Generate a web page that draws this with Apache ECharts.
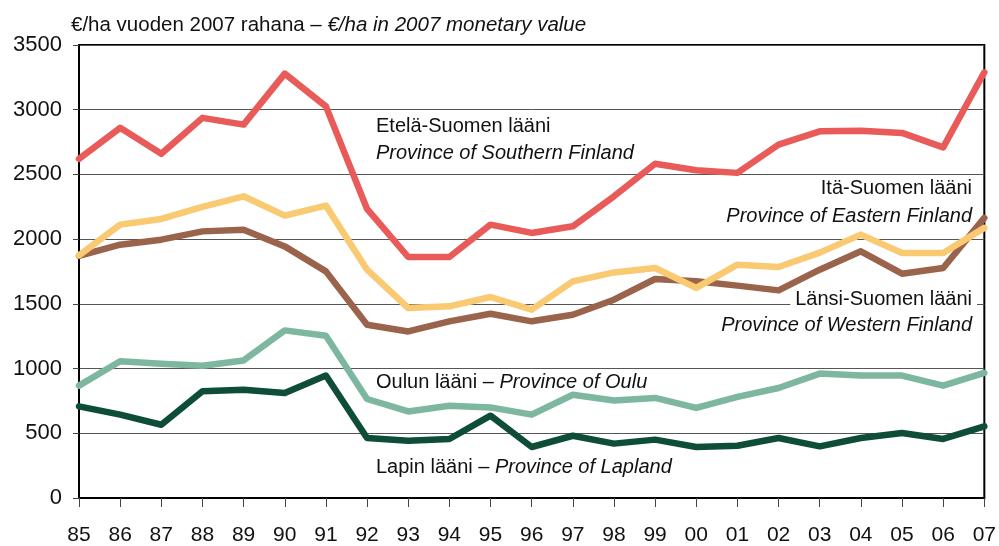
<!DOCTYPE html>
<html><head><meta charset="utf-8">
<script src="https://cdn.jsdelivr.net/npm/echarts@6/dist/echarts.min.js"></script>
<style>html,body{margin:0;padding:0;background:#fff}#c{width:999px;height:546px}</style>
</head><body><div id="c"></div>
<script>
const years = ['85','86','87','88','89','90','91','92','93','94','95','96','97','98','99','00','01','02','03','04','05','06','07'];
const etela = [2620,2860,2660,2937,2885,3279,3026,2233,1862,1862,2112,2048,2099,2331,2583,2532,2512,2730,2833,2838,2821,2709,3289];
const ita = [1875,2112,2156,2249,2331,2182,2259,1764,1468,1481,1553,1455,1674,1743,1777,1623,1803,1785,1896,2035,1893,1893,2087];
const lansi = [1870,1957,1996,2060,2073,1944,1751,1339,1287,1365,1424,1365,1416,1532,1692,1674,1641,1604,1764,1906,1733,1777,2164];
const oulu = [868,1056,1038,1022,1063,1295,1254,765,669,713,700,644,798,754,773,696,781,850,961,946,946,868,966];
const lappi = [708,644,566,824,837,811,946,464,443,456,636,394,481,420,451,394,404,464,399,464,502,456,553];
const yTicks = [0,500,1000,1500,2000,2500,3000,3500];

const FONT = '"Liberation Sans Narrow","Arial Narrow","Liberation Sans",sans-serif';
const chart = echarts.init(document.getElementById('c'), null, {renderer:'canvas'});
function s(name, data, color){
  return {name, type:'line', data, symbol:'none', smooth:false,
    lineStyle:{color, width:6.5, cap:'round', join:'round'}, itemStyle:{color}, z:3};
}
chart.setOption({
  animation:false,
  backgroundColor:'#fff',
  grid:{left:79, right:12, top:45, bottom:48, show:true, borderColor:'#000', borderWidth:2, backgroundColor:'transparent'},
  title:{
    left:66, top:10,
    text:'{r|€/ha vuoden 2007 rahana – }{i|€/ha in 2007 monetary value}',
    textStyle:{fontWeight:'normal', rich:{
      r:{fontFamily:FONT, fontSize:20.5, color:'#111', fontWeight:'normal'},
      i:{fontFamily:FONT, fontSize:20.5, color:'#111', fontStyle:'italic', fontWeight:'normal'}
    }}
  },
  xAxis:{type:'category', data:years, boundaryGap:false,
    axisLine:{show:true, lineStyle:{color:'#000', width:2}},
    axisTick:{show:true, alignWithLabel:true, length:9, inside:false, lineStyle:{color:'#444', width:1}},
    axisLabel:{fontFamily:FONT, fontSize:21, color:'#111', margin:27},
    splitLine:{show:false}
  },
  yAxis:{type:'value', min:0, max:3500, interval:500,
    axisLine:{show:true, lineStyle:{color:'#000', width:2}},
    axisTick:{show:true, length:6, lineStyle:{color:'#444'}},
    axisLabel:{fontFamily:FONT, fontSize:22, color:'#111', margin:17,
      formatter:v=>yTicks.includes(v)?String(v):''},
    splitLine:{show:true, lineStyle:{color:'#555', width:1}}
  },
  series:[
    s('Etelä-Suomen lääni', etela, '#E85B59'),
    s('Länsi-Suomen lääni', lansi, '#9A634B'),
    s('Itä-Suomen lääni', ita, '#F9CA72'),
    s('Oulun lääni', oulu, '#7DB7A0'),
    s('Lapin lääni', lappi, '#0E4D38')
  ],
  graphic:[
    {type:'text', left:376, top:116, style:{text:'Etelä-Suomen lääni', font:'20px '+FONT, fill:'#111'}},
    {type:'text', left:376, top:143, style:{text:'Province of Southern Finland', font:'italic 20px '+FONT, fill:'#111'}},
    {type:'text', right:27, top:178, style:{text:'Itä-Suomen lääni', font:'20px '+FONT, fill:'#111', align:'right'}},
    {type:'text', right:27, top:206, style:{text:'Province of Eastern Finland', font:'italic 20px '+FONT, fill:'#111', align:'right'}},
    {type:'text', right:22, top:289, z:10, style:{text:'Länsi-Suomen lääni', font:'20px '+FONT, fill:'#111', align:'right', backgroundColor:'#fff', padding:[0,5,0,5]}},
    {type:'text', right:27, top:315, style:{text:'Province of Western Finland', font:'italic 20px '+FONT, fill:'#111', align:'right'}},
    {type:'text', left:376, top:372, style:{rich:{r:{font:'20px '+FONT, fill:'#111'}, i:{font:'italic 20px '+FONT, fill:'#111'}}, text:'{r|Oulun lääni – }{i|Province of Oulu}'}},
    {type:'text', left:376, top:457, style:{rich:{r:{font:'20px '+FONT, fill:'#111'}, i:{font:'italic 20px '+FONT, fill:'#111'}}, text:'{r|Lapin lääni – }{i|Province of Lapland}'}}
  ]
});
</script></body></html>
